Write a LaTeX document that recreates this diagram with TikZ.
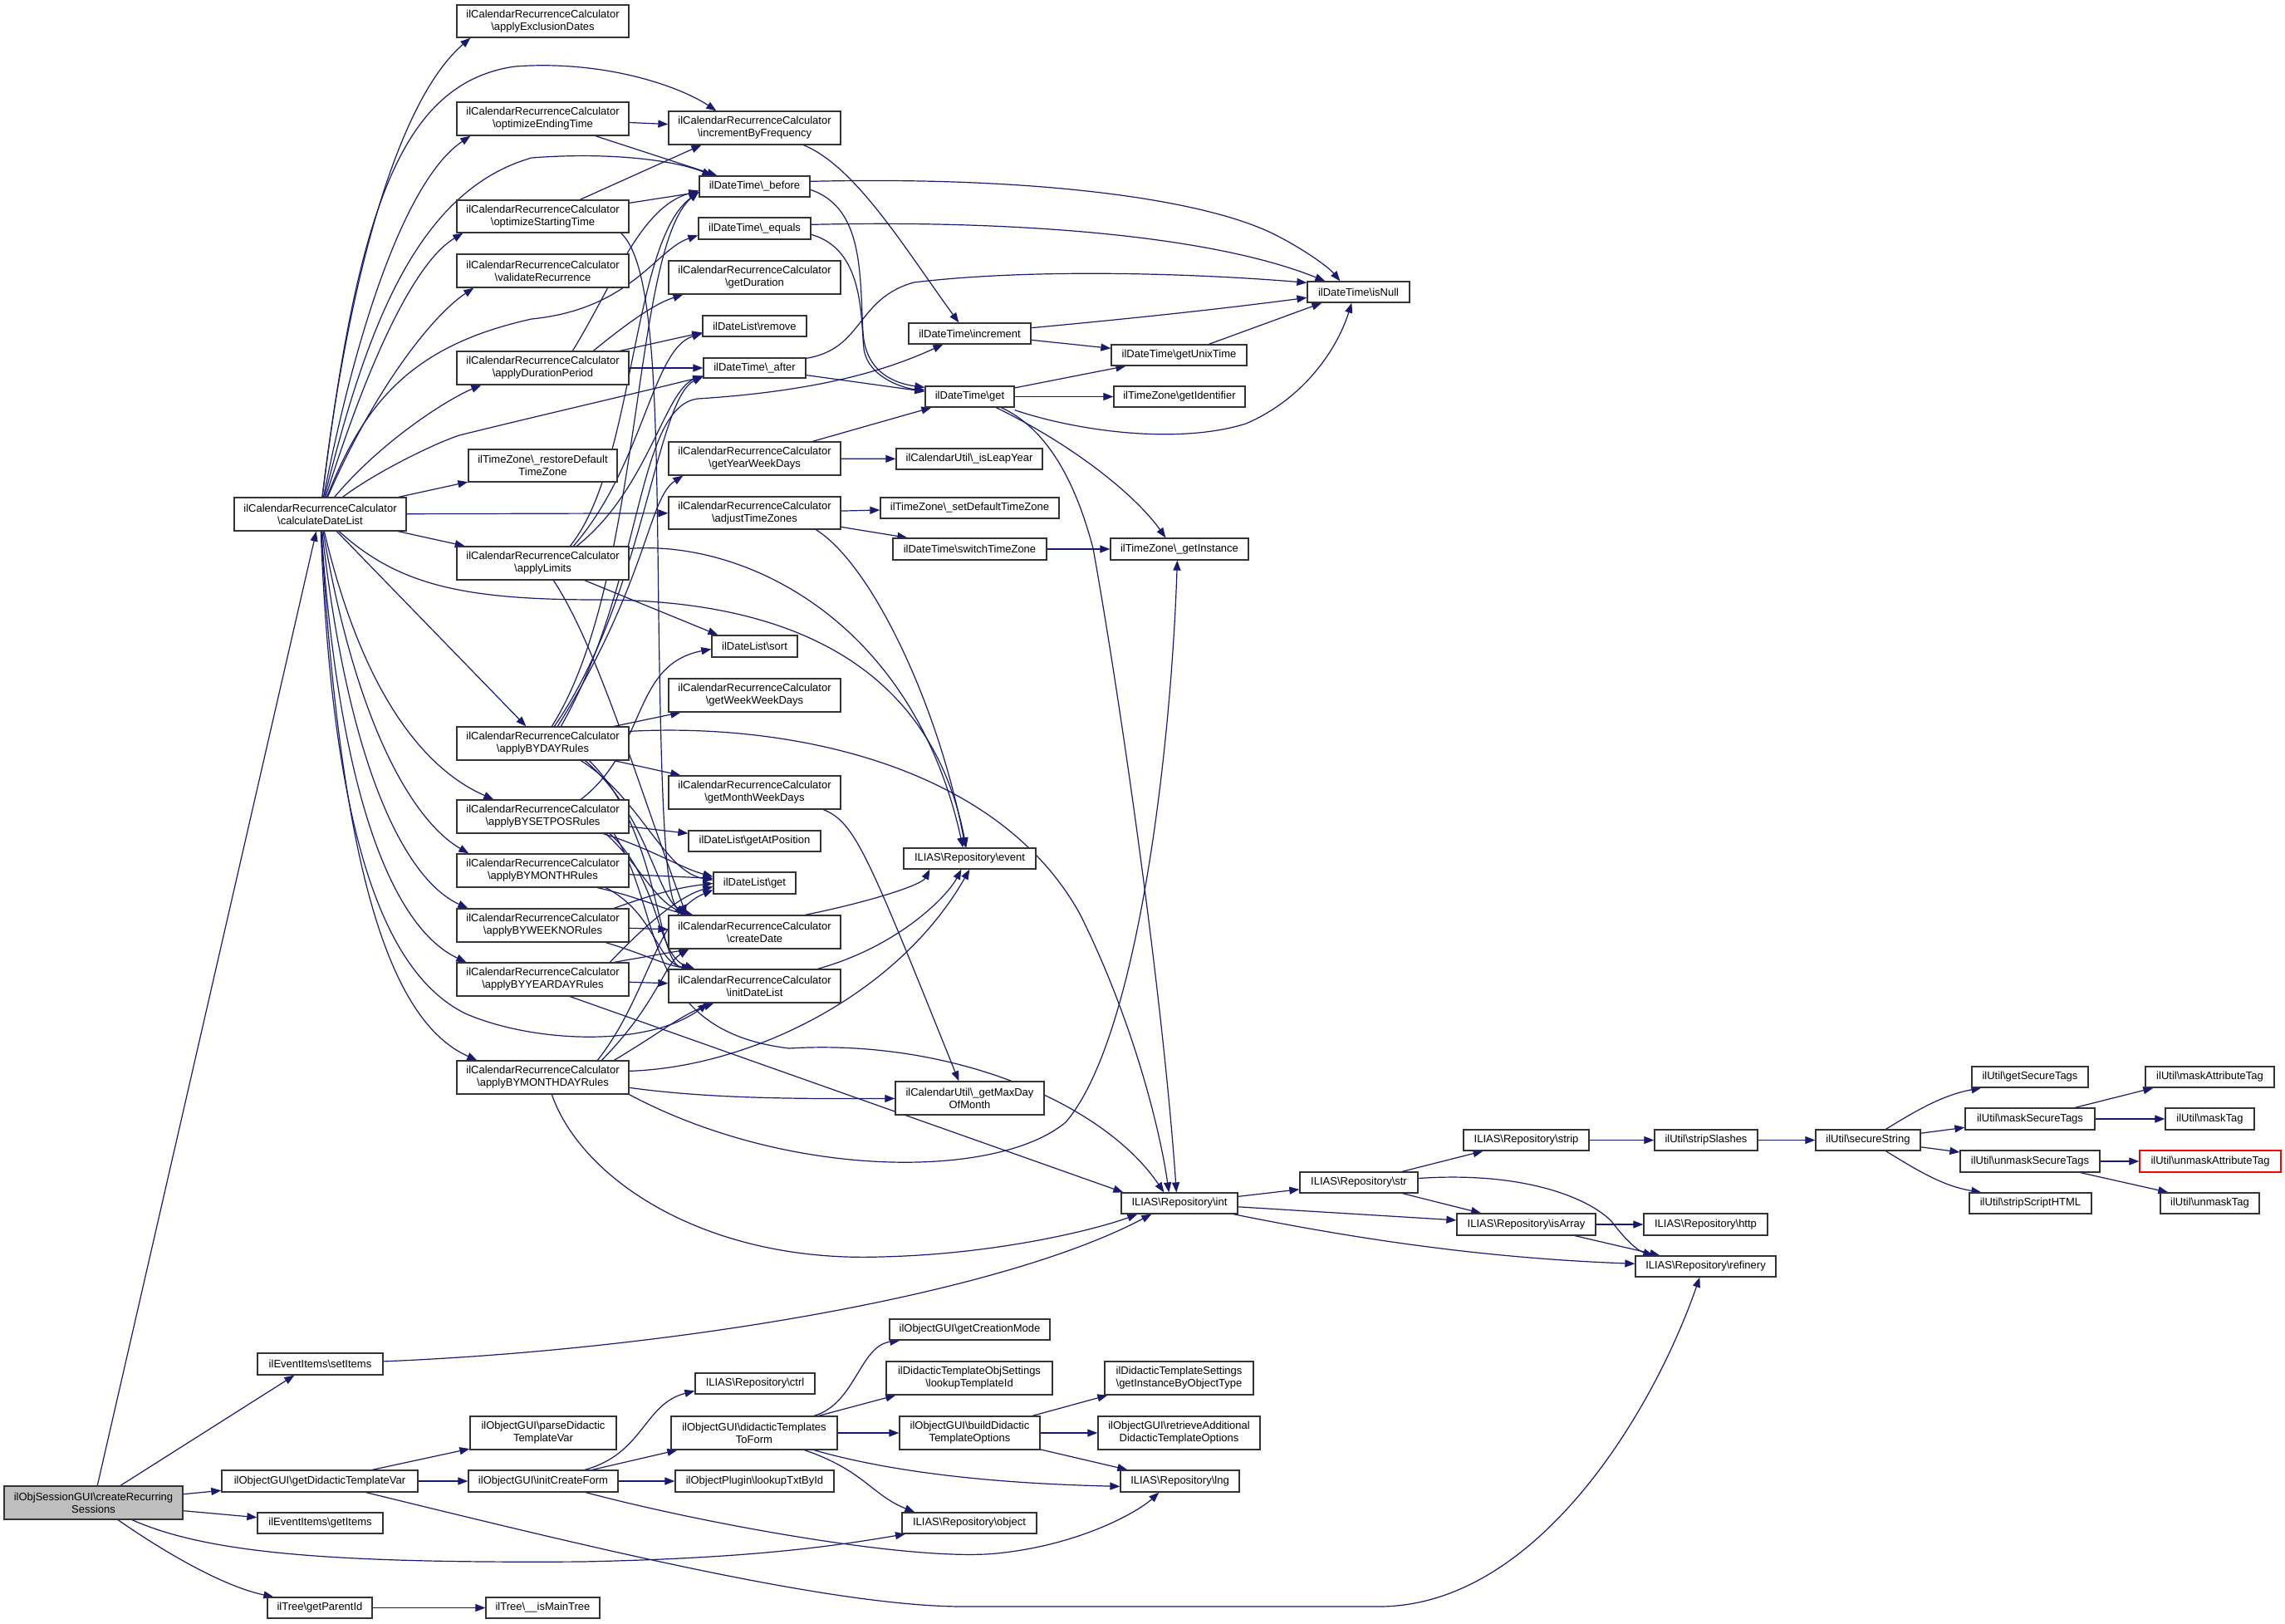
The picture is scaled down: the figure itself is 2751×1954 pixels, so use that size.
\documentclass[tikz,border=0pt]{standalone}
\usepackage{fontspec}
\setmainfont{Liberation Sans}
\usetikzlibrary{arrows.meta,backgrounds}
\definecolor{edgeblue}{HTML}{191970}
\definecolor{crsgray}{HTML}{BFBFBF}
\newcommand\bsl{\textbackslash}
\newcommand\mybox[7][]{\node[box,#1,minimum width={(#5-#3)*1pt},minimum height={(#6-#4)*1pt}] (#2) at ({(#3+#5)/2},{(#4+#6)/2}) {#7};}
\tikzset{
  box/.style={draw=black!80, line width=1.3pt, fill=white, inner sep=0pt, align=center, font=\fontsize{13}{15.2}\selectfont},
  e/.style={draw=edgeblue, line width=1.2pt, -{Triangle[length=12pt,width=9pt]}}
}
\begin{document}
\begin{tikzpicture}[x=1pt,y=-1pt]
\useasboundingbox (0,0) rectangle (2751,1954);
% column A
\mybox[fill=crsgray]{crs}{5}{1789}{220}{1829}{ilObjSessionGUI\bsl createRecurring\\Sessions}
\mybox{cdl}{282}{599}{489}{639}{ilCalendarRecurrenceCalculator\\\bsl calculateDateList}
\mybox{setI}{310}{1629}{461}{1655}{ilEventItems\bsl setItems}
\mybox{gdtv}{267}{1770}{503}{1796}{ilObjectGUI\bsl getDidacticTemplateVar}
\mybox{getI}{310}{1821}{461}{1846}{ilEventItems\bsl getItems}
\mybox{gpid}{322}{1923}{448}{1948}{ilTree\bsl getParentId}
% column B
\mybox{aed}{550}{6}{757}{45}{ilCalendarRecurrenceCalculator\\\bsl applyExclusionDates}
\mybox{oet}{550}{123}{757}{163}{ilCalendarRecurrenceCalculator\\\bsl optimizeEndingTime}
\mybox{ost}{550}{241}{757}{280}{ilCalendarRecurrenceCalculator\\\bsl optimizeStartingTime}
\mybox{vr}{550}{306}{757}{346}{ilCalendarRecurrenceCalculator\\\bsl validateRecurrence}
\mybox{adp}{550}{423}{757}{463}{ilCalendarRecurrenceCalculator\\\bsl applyDurationPeriod}
\mybox{rdtz}{564}{541}{743}{580}{ilTimeZone\bsl\_restoreDefault\\TimeZone}
\mybox{al}{550}{658}{757}{698}{ilCalendarRecurrenceCalculator\\\bsl applyLimits}
\mybox{bday}{550}{875}{757}{915}{ilCalendarRecurrenceCalculator\\\bsl applyBYDAYRules}
\mybox{bsp}{550}{963}{757}{1003}{ilCalendarRecurrenceCalculator\\\bsl applyBYSETPOSRules}
\mybox{bmo}{550}{1028}{757}{1068}{ilCalendarRecurrenceCalculator\\\bsl applyBYMONTHRules}
\mybox{bwk}{550}{1094}{757}{1134}{ilCalendarRecurrenceCalculator\\\bsl applyBYWEEKNORules}
\mybox{byd}{550}{1159}{757}{1199}{ilCalendarRecurrenceCalculator\\\bsl applyBYYEARDAYRules}
\mybox{bmd}{550}{1277}{757}{1317}{ilCalendarRecurrenceCalculator\\\bsl applyBYMONTHDAYRules}
\mybox{pdtv}{566}{1705}{742}{1745}{ilObjectGUI\bsl parseDidactic\\TemplateVar}
\mybox{icf}{564}{1770}{744}{1796}{ilObjectGUI\bsl initCreateForm}
\mybox{imt}{585}{1923}{722}{1948}{ilTree\bsl\_\_isMainTree}
% column C
\mybox{ibf}{805}{134}{1012}{174}{ilCalendarRecurrenceCalculator\\\bsl incrementByFrequency}
\mybox{bef}{842}{212}{975}{237}{ilDateTime\bsl\_before}
\mybox{equ}{841}{262}{976}{288}{ilDateTime\bsl\_equals}
\mybox{gdur}{805}{314}{1012}{354}{ilCalendarRecurrenceCalculator\\\bsl getDuration}
\mybox{rem}{846}{380}{971}{405}{ilDateList\bsl remove}
\mybox{aft}{847}{431}{970}{455}{ilDateTime\bsl\_after}
\mybox{gywd}{805}{532}{1012}{572}{ilCalendarRecurrenceCalculator\\\bsl getYearWeekDays}
\mybox{atz}{805}{598}{1012}{637}{ilCalendarRecurrenceCalculator\\\bsl adjustTimeZones}
\mybox{sort}{857}{765}{960}{791}{ilDateList\bsl sort}
\mybox{gwwd}{805}{817}{1012}{857}{ilCalendarRecurrenceCalculator\\\bsl getWeekWeekDays}
\mybox{gmwd}{805}{934}{1012}{974}{ilCalendarRecurrenceCalculator\\\bsl getMonthWeekDays}
\mybox{gap}{829}{1000}{988}{1025}{ilDateList\bsl getAtPosition}
\mybox{dlg}{859}{1050}{958}{1076}{ilDateList\bsl get}
\mybox{cd}{805}{1102}{1012}{1142}{ilCalendarRecurrenceCalculator\\\bsl createDate}
\mybox{idl}{805}{1167}{1012}{1207}{ilCalendarRecurrenceCalculator\\\bsl initDateList}
\mybox{ctrl}{837}{1653}{981}{1678}{ILIAS\bsl Repository\bsl ctrl}
\mybox{dtf}{808}{1705}{1008}{1745}{ilObjectGUI\bsl didacticTemplates\\ToForm}
\mybox{ltbi}{813}{1770}{1004}{1796}{ilObjectPlugin\bsl lookupTxtById}
% column D
\mybox{inc}{1094}{389}{1241}{414}{ilDateTime\bsl increment}
\mybox{get}{1114}{465}{1221}{490}{ilDateTime\bsl get}
\mybox{leap}{1079}{540}{1255}{565}{ilCalendarUtil\bsl\_isLeapYear}
\mybox{sdtz}{1060}{599}{1275}{624}{ilTimeZone\bsl\_setDefaultTimeZone}
\mybox{stz}{1075}{648}{1260}{674}{ilDateTime\bsl switchTimeZone}
\mybox{event}{1088}{1021}{1247}{1046}{ILIAS\bsl Repository\bsl event}
\mybox{maxd}{1078}{1302}{1257}{1342}{ilCalendarUtil\bsl\_getMaxDay\\OfMonth}
\mybox{gcm}{1071}{1588}{1264}{1613}{ilObjectGUI\bsl getCreationMode}
\mybox{lti}{1067}{1639}{1267}{1679}{ilDidacticTemplateObjSettings\\\bsl lookupTemplateId}
\mybox{bdt}{1083}{1705}{1252}{1745}{ilObjectGUI\bsl buildDidactic\\TemplateOptions}
\mybox{obj}{1086}{1821}{1248}{1846}{ILIAS\bsl Repository\bsl object}
% column E
\mybox{gut}{1338}{415}{1501}{440}{ilDateTime\bsl getUnixTime}
\mybox{gid}{1341}{465}{1499}{490}{ilTimeZone\bsl getIdentifier}
\mybox{ginst}{1337}{648}{1503}{674}{ilTimeZone\bsl\_getInstance}
\mybox{int}{1350}{1436}{1490}{1461}{ILIAS\bsl Repository\bsl int}
\mybox{gibot}{1330}{1639}{1509}{1679}{ilDidacticTemplateSettings\\\bsl getInstanceByObjectType}
\mybox{rad}{1322}{1705}{1517}{1745}{ilObjectGUI\bsl retrieveAdditional\\DidacticTemplateOptions}
\mybox{lng}{1349}{1770}{1492}{1796}{ILIAS\bsl Repository\bsl lng}
% column F and beyond
\mybox{isnull}{1574}{339}{1697}{364}{ilDateTime\bsl isNull}
\mybox{str}{1565}{1411}{1707}{1436}{ILIAS\bsl Repository\bsl str}
\mybox{strip}{1762}{1360}{1913}{1385}{ILIAS\bsl Repository\bsl strip}
\mybox{isarr}{1754}{1461}{1921}{1487}{ILIAS\bsl Repository\bsl isArray}
\mybox{refi}{1969}{1512}{2138}{1537}{ILIAS\bsl Repository\bsl refinery}
\mybox{http}{1979}{1461}{2128}{1487}{ILIAS\bsl Repository\bsl http}
\mybox{strsl}{1992}{1360}{2116}{1385}{ilUtil\bsl stripSlashes}
\mybox{sec}{2186}{1360}{2312}{1385}{ilUtil\bsl secureString}
\mybox{gst}{2374}{1284}{2514}{1309}{ilUtil\bsl getSecureTags}
\mybox{mst}{2366}{1334}{2522}{1360}{ilUtil\bsl maskSecureTags}
\mybox{ust}{2360}{1385}{2528}{1411}{ilUtil\bsl unmaskSecureTags}
\mybox{ssh}{2371}{1436}{2518}{1461}{ilUtil\bsl stripScriptHTML}
\mybox{mat}{2583}{1284}{2738}{1309}{ilUtil\bsl maskAttributeTag}
\mybox{mt}{2607}{1334}{2714}{1360}{ilUtil\bsl maskTag}
\mybox[draw=red]{uat}{2576}{1385}{2746}{1411}{ilUtil\bsl unmaskAttributeTag}
\mybox{ut}{2601}{1436}{2720}{1461}{ilUtil\bsl unmaskTag}

\begin{pgfonlayer}{background}
\fill[white] (0,0) rectangle (2751,1954);
% calculateDateList
\draw[e] (cdl) .. controls (420,330) and (480,120) .. ([xshift=17]aed.south west);
\draw[e] (cdl) .. controls (430,260) and (480,100) .. (620,80) .. controls (730,72) and (820,105) .. ([xshift=58]ibf.north west);
\draw[e] (cdl) .. controls (430,390) and (490,215) .. ([xshift=17]oet.south west);
\draw[e] (cdl) .. controls (440,400) and (500,230) .. (640,190) .. controls (730,183) and (810,192) .. ([xshift=16]bef.north west);
\draw[e] (cdl) .. controls (445,430) and (500,315) .. ([xshift=8]ost.south west);
\draw[e] (cdl) .. controls (450,470) and (520,380) .. ([xshift=21]vr.south west);
\draw[e] (cdl) .. controls (440,480) and (500,415) .. (640,384) .. controls (760,372) and (790,300) .. ([yshift=-22]equ.north west);
\draw[e] (cdl) .. controls (460,530) and (540,480) .. ([xshift=30]adp.south west);
\draw[e] (cdl) .. controls (450,570) and (520,535) .. (553,524) .. controls (650,500) and (780,470) .. ([yshift=-23]aft.north west);
\draw[e] (cdl) -- (rdtz);
\draw[e] (cdl) -- (atz);
\draw[e] (cdl) -- (al);
\draw[e] (cdl) .. controls (480,705) and (560,722) .. (720,722) .. controls (950,722) and (1120,800) .. ([xshift=76]event.north west);
\draw[e] (cdl) -- ([xshift=84]bday.north west);
\draw[e] (cdl) .. controls (440,850) and (520,930) .. ([xshift=45]bsp.north west);
\draw[e] (cdl) .. controls (430,880) and (500,990) .. ([xshift=15]bmo.north west);
\draw[e] (cdl) .. controls (420,930) and (490,1060) .. ([xshift=14]bwk.north west);
\draw[e] (cdl) .. controls (410,980) and (480,1120) .. ([xshift=12]byd.north west);
\draw[e] (cdl) .. controls (410,1050) and (470,1230) .. ([xshift=25]bmd.north west);
\draw[e] (cdl) .. controls (400,1000) and (460,1170) .. (560,1220) .. controls (640,1255) and (780,1262) .. ([xshift=48]idl.south west);
% createRecurringSessions
\draw[e] (crs) -- (cdl);
\draw[e] (crs) -- ([xshift=45]setI.south west);
\draw[e] (crs) -- (gdtv);
\draw[e] (crs) -- (getI);
\draw[e] (crs) .. controls (250,1870) and (400,1882) .. (700,1880) .. controls (900,1876) and (1000,1862) .. (obj);
\draw[e] (crs) .. controls (200,1870) and (270,1910) .. ([xshift=8]gpid.north west);
% getDidacticTemplateVar
\draw[e] (gdtv) -- (pdtv);
\draw[e] (gdtv) -- (icf);
\draw[e] (gdtv) .. controls (700,1860) and (1000,1934) .. (1160,1934) -- (1660,1934) .. controls (1850,1934) and (1990,1700) .. ([xshift=78]refi.south west);
\draw[e] (setI) .. controls (800,1625) and (1200,1560) .. ([xshift=37]int.south west);
\draw[e] (gpid) -- (imt);
% initCreateForm
\draw[e] (icf) .. controls (775,1750) and (775,1690) .. ([yshift=-22]ctrl.north west);
\draw[e] (icf) -- ([xshift=8]dtf.south west);
\draw[e] (icf) -- (ltbi);
\draw[e] (icf) .. controls (850,1835) and (1100,1880) .. (1200,1870) .. controls (1300,1860) and (1370,1820) .. ([xshift=47]lng.south west);
% didacticTemplatesToForm
\draw[e] (dtf) .. controls (1030,1690) and (1035,1620) .. ([xshift=13]gcm.south west);
\draw[e] (dtf) -- ([xshift=12]lti.south west);
\draw[e] (dtf) -- (bdt);
\draw[e] (dtf) .. controls (1100,1780) and (1250,1787) .. ([yshift=-20]lng.north west);
\draw[e] (dtf) .. controls (1040,1770) and (1050,1800) .. ([xshift=16]obj.north west);
\draw[e] (bdt) -- ([xshift=4]gibot.south west);
\draw[e] (bdt) -- (rad);
\draw[e] (bdt) -- ([xshift=9]lng.north west);
% Repository int / str
\draw[e] (int) -- (str);
\draw[e] (int) -- (isarr);
\draw[e] (int) .. controls (1650,1495) and (1800,1515) .. (refi);
\draw[e] (str) -- (strip);
\draw[e] (str) -- (isarr);
\draw[e] (str) .. controls (1830,1410) and (1910,1440) .. (1940,1470) .. controls (1955,1490) and (1970,1505) .. ([xshift=22]refi.north west);
\draw[e] (isarr) -- (http);
\draw[e] (isarr) -- ([xshift=30]refi.north west);
\draw[e] (strip) -- (strsl);
\draw[e] (strsl) -- (sec);
\draw[e] (sec) .. controls (2310,1335) and (2340,1318) .. ([xshift=12]gst.south west);
\draw[e] (sec) -- (mst);
\draw[e] (sec) -- (ust);
\draw[e] (sec) .. controls (2310,1410) and (2340,1428) .. ([xshift=15]ssh.north west);
\draw[e] (mst) -- ([xshift=10]mat.south west);
\draw[e] (mst) -- (mt);
\draw[e] (ust) -- (uat);
\draw[e] (ust) -- ([xshift=10]ut.north west);
% optimize*
\draw[e] (oet) -- (ibf);
\draw[e] (oet) -- ([xshift=22]bef.north west);
\draw[e] (ost) -- ([xshift=40]ibf.south west);
\draw[e] (ost) -- ([yshift=-20]bef.north west);
\draw[e] ([xshift=-10]ost.south east) .. controls (790,320) and (790,500) .. (793,740) .. controls (796,950) and (800,1080) .. ([xshift=20]cd.north west);
% applyDurationPeriod
\draw[e] ([xshift=140]adp.north west) .. controls (740,340) and (770,250) .. ([yshift=-18]bef.north west);
\draw[e] ([xshift=165]adp.north west) .. controls (760,385) and (790,365) .. ([xshift=18]gdur.south west);
\draw[e] (adp) -- ([yshift=-21]rem.north west);
\draw[e] (adp) -- (aft);
% applyLimits
\draw[e] ([xshift=137]al.north west) .. controls (765,560) and (760,290) .. ([yshift=-20]bef.north west);
\draw[e] ([xshift=141]al.north west) .. controls (775,560) and (785,420) .. ([yshift=-22]rem.north west);
\draw[e] ([xshift=145]al.north west) .. controls (780,590) and (800,470) .. ([yshift=-22]aft.north west);
\draw[e] (al) -- ([xshift=8]sort.north west);
\draw[e] ([yshift=-3]al.north east) .. controls (900,650) and (1100,750) .. ([xshift=72]event.north west);
\draw[e] ([xshift=117]al.south west) .. controls (720,780) and (770,950) .. ([xshift=22]cd.north west);
% applyBYDAYRules
\draw[e] ([xshift=115]bday.north west) .. controls (775,700) and (760,300) .. ([yshift=-19]bef.north west);
\draw[e] ([xshift=118]bday.north west) .. controls (775,720) and (790,480) .. ([yshift=-23]aft.north west);
\draw[e] ([xshift=122]bday.north west) .. controls (780,700) and (780,600) .. ([xshift=18]gywd.south west);
\draw[e] ([xshift=126]bday.north west) .. controls (775,700) and (765,490) .. (840,480) .. controls (1000,470) and (1080,440) .. ([xshift=42]inc.south west);
\draw[e] ([xshift=190]bday.north west) -- ([xshift=15]gwwd.south west);
\draw[e] ([yshift=-6]bday.north east) .. controls (950,870) and (1200,920) .. (1300,1100) .. controls (1360,1220) and (1395,1350) .. ([xshift=58]int.north west);
\draw[e] ([xshift=190]bday.south west) -- ([xshift=15]gmwd.north west);
\draw[e] ([xshift=150]bday.south west) .. controls (770,960) and (800,1050) .. ([yshift=-10]dlg.north west);
\draw[e] ([xshift=155]bday.south west) .. controls (780,980) and (790,1080) .. ([xshift=25]cd.north west);
\draw[e] ([xshift=160]bday.south west) .. controls (795,1000) and (790,1160) .. ([xshift=28]idl.north west);
% applyBYSETPOSRules
\draw[e] ([xshift=150]bsp.north west) .. controls (780,900) and (760,800) .. ([yshift=-17]sort.north west);
\draw[e] (bsp) -- (gap);
\draw[e] ([xshift=177]bsp.south west) .. controls (780,1020) and (820,1045) .. ([yshift=-6]dlg.north west);
\draw[e] ([xshift=180]bsp.south west) .. controls (770,1040) and (790,1090) .. ([xshift=30]cd.north west);
\draw[e] ([xshift=185]bsp.south west) .. controls (795,1060) and (790,1150) .. ([xshift=32]idl.north west);
\draw[e] ([xshift=190]bsp.south west) .. controls (800,1100) and (770,1240) .. (950,1262) .. controls (1150,1250) and (1330,1330) .. ([xshift=52]int.north west);
% applyBYMONTHRules
\draw[e] (bmo) -- ([yshift=-8]dlg.north west);
\draw[e] ([xshift=170]bmo.south west) .. controls (770,1080) and (800,1095) .. ([xshift=27]cd.north west);
\draw[e] ([xshift=180]bmo.south west) .. controls (790,1100) and (790,1160) .. ([xshift=30]idl.north west);
% applyBYWEEKNORules
\draw[e] ([xshift=190]bwk.north west) .. controls (790,1075) and (820,1068) .. ([yshift=-14]dlg.north west);
\draw[e] (bwk) -- (cd);
\draw[e] ([xshift=180]bwk.south west) .. controls (780,1150) and (800,1162) .. ([xshift=30]idl.north west);
% applyBYYEARDAYRules
\draw[e] ([xshift=185]byd.north west) .. controls (780,1110) and (820,1078) .. ([yshift=-18]dlg.north west);
\draw[e] ([xshift=190]byd.north west) -- ([xshift=25]cd.south west);
\draw[e] (byd) -- (idl);
\draw[e] ([xshift=137]byd.south west) -- ([xshift=3]int.north west);
% applyBYMONTHDAYRules
\draw[e] ([xshift=170]bmd.north west) .. controls (780,1200) and (790,1100) .. ([yshift=-22]dlg.north west);
\draw[e] ([xshift=175]bmd.north west) .. controls (790,1210) and (800,1160) .. ([xshift=25]cd.south west);
\draw[e] ([xshift=190]bmd.north west) .. controls (800,1240) and (820,1222) .. ([xshift=55]idl.south west);
\draw[e] ([yshift=-13]bmd.north east) .. controls (900,1285) and (1080,1200) .. ([xshift=80]event.south west);
\draw[e] ([yshift=-33]bmd.north east) .. controls (850,1322) and (950,1323) .. (maxd);
\draw[e] (bmd.south east) .. controls (950,1420) and (1200,1420) .. (1283,1351) .. controls (1370,1250) and (1410,900) .. ([xshift=81]ginst.south west);
\draw[e] ([xshift=115]bmd.south west) .. controls (700,1420) and (850,1520) .. (1060,1513) .. controls (1200,1510) and (1320,1480) .. ([xshift=20]int.south west);
% createDate, initDateList, getMonthWeekDays
\draw[e] ([xshift=165]cd.north west) .. controls (1050,1085) and (1110,1065) .. ([xshift=32]event.south west);
\draw[e] ([xshift=180]idl.north west) .. controls (1080,1140) and (1140,1080) .. ([xshift=70]event.south west);
\draw[e] ([xshift=187]gmwd.south west) .. controls (1030,990) and (1045,1030) .. ([xshift=77]maxd.north west);
% incrementByFrequency, ilDateTime
\draw[e] ([xshift=163]ibf.south west) .. controls (1030,200) and (1090,300) .. ([xshift=61]inc.north west);
\draw[e] ([yshift=-7]bef.north east) .. controls (1250,212) and (1450,240) .. (1534,282) .. controls (1570,300) and (1600,322) .. ([xshift=40]isnull.north west);
\draw[e] ([yshift=-17]bef.north east) .. controls (1040,250) and (1035,330) .. (1039,400) .. controls (1042,450) and (1080,462) .. ([yshift=-2]get.north west);
\draw[e] ([yshift=-9]equ.north east) .. controls (1200,265) and (1450,280) .. ([xshift=22]isnull.north west);
\draw[e] ([yshift=-21]equ.north east) .. controls (1040,300) and (1036,380) .. (1040,420) .. controls (1045,455) and (1090,468) .. ([yshift=-5]get.north west);
\draw[e] ([yshift=-1]aft.north east) .. controls (1040,420) and (1030,360) .. (1100,340) .. controls (1250,322) and (1450,330) .. ([yshift=-2]isnull.north west);
\draw[e] (aft) -- ([yshift=-7]get.north west);
\draw[e] (inc) .. controls (1400,380) and (1500,368) .. ([yshift=-20]isnull.north west);
\draw[e] (inc) -- ([yshift=-5]gut.north west);
\draw[e] (get) -- ([xshift=18]gut.south west);
\draw[e] (get) -- (gid);
\draw[e] ([yshift=-3]get.south east) .. controls (1300,520) and (1420,535) .. (1500,510) .. controls (1570,480) and (1610,420) .. ([xshift=54]isnull.south west);
\draw[e] ([xshift=86]get.south west) .. controls (1300,540) and (1370,600) .. ([xshift=67]ginst.north west);
\draw[e] ([xshift=92]get.south west) .. controls (1270,520) and (1300,600) .. (1316,660) .. controls (1350,850) and (1400,1200) .. ([xshift=67]int.north west);
\draw[e] (gut) -- ([xshift=18]isnull.south west);
\draw[e] ([xshift=174]gywd.north west) -- ([xshift=8]get.south west);
\draw[e] (gywd) -- (leap);
\draw[e] (atz) -- (sdtz);
\draw[e] (atz) -- ([xshift=18]stz.north west);
\draw[e] ([xshift=178]atz.south west) .. controls (1050,680) and (1130,850) .. ([xshift=75]event.north west);
\draw[e] (stz) -- (ginst);
\end{pgfonlayer}
\end{tikzpicture}
\end{document}
